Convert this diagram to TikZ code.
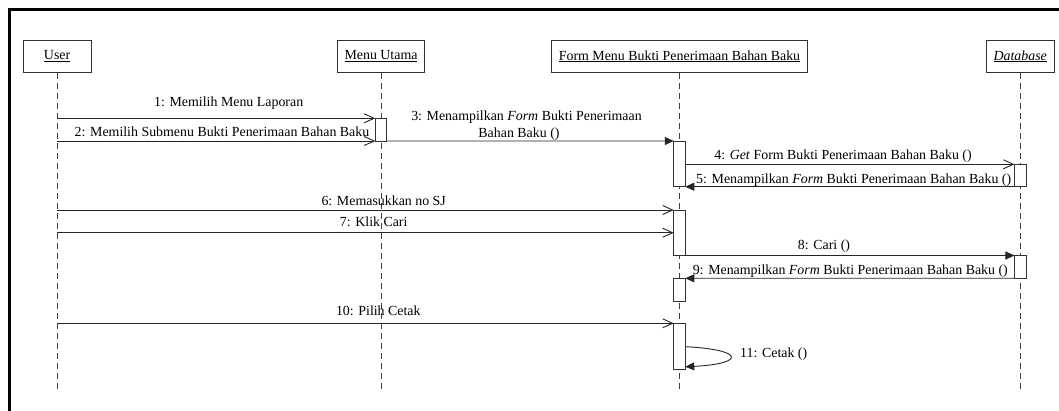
\documentclass[tikz,border=0pt]{standalone}
\usepackage{fontspec}
\setmainfont{Liberation Serif}
\usetikzlibrary{arrows.meta}
\begin{document}
\begin{tikzpicture}[x=1pt,y=-1pt,
  every node/.style={font=\fontsize{13.9}{16.5}\selectfont},
  head/.style={draw=black!80, line width=0.9pt, fill=white, minimum height=32.7pt, inner sep=0pt, outer sep=0pt},
  life/.style={draw=black!75, line width=0.9pt, dash pattern=on 6pt off 4pt},
  act/.style={draw=black!80, line width=0.9pt, fill=white, minimum width=11.5pt, inner sep=0pt, outer sep=0pt},
  call/.style={draw=black!85, line width=0.9pt, -{Straight Barb[length=10pt,width=9pt]}},
  reply/.style={draw=black!85, line width=0.9pt, -{Triangle[length=9pt,width=8pt]}},
  lbl/.style={anchor=base, inner sep=0pt},
]
\useasboundingbox (0,0) rectangle (1059,411);
% outer frame
\draw[line width=2.6pt] (9.6,411) -- (9.6,9.3) -- (1059,9.3);

% object headers
\node[head, minimum width=68.3pt] (user) at (57.1,56.4) {\underline{User}};
\node[head, minimum width=87pt]   (menu) at (381.0,56.4) {\underline{Menu Utama}};
\node[head, minimum width=256pt]  (form) at (679.5,56.4) {\underline{Form Menu Bukti Penerimaan Bahan Baku}};
\node[head, minimum width=68pt]   (db)   at (1020.2,56.4) {\underline{\textit{Database}}};

% lifelines
\coordinate (userEnd) at (user.south |- 0,391.7);
\coordinate (menuEnd) at (menu.south |- 0,391.7);
\coordinate (formEnd) at (form.south |- 0,391.7);
\coordinate (dbEnd)   at (db.south   |- 0,391.7);
\draw[life] (user.south) -- (userEnd);
\draw[life] (menu.south) -- (menuEnd);
\draw[life] (form.south) -- (formEnd);
\draw[life] (db.south)   -- (dbEnd);

% activation bars
\node[act, minimum height=22.7pt] (m1) at (menu.south |- 0,129.65) {};
\node[act, minimum height=45.7pt] (f1) at (form.south |- 0,163.85) {};
\node[act, minimum height=22.4pt] (d1) at (db.south   |- 0,175.5) {};
\node[act, minimum height=45.5pt] (f2) at (form.south |- 0,232.75) {};
\node[act, minimum height=22.8pt] (d2) at (db.south   |- 0,266.9) {};
\node[act, minimum height=22.7pt] (f3) at (form.south |- 0,289.65) {};
\node[act, minimum height=46pt]   (f4) at (form.south |- 0,346.3) {};

% messages
\coordinate (u1)  at (user.south |- m1.north);
\coordinate (u2)  at (user.south |- m1.south);
\coordinate (u6)  at (user.south |- f2.north);
\coordinate (u7)  at (user.south |- f2.west);
\coordinate (u10) at (user.south |- f4.north);

\draw[call]  (u1) -- (m1.north west);
\node[lbl] (l1) at (228.7,107) {1: Memilih Menu Laporan};

\draw[call]  (u2) -- (m1.south west);
\node[lbl] (l2) at (222,137) {2: Memilih Submenu Bukti Penerimaan Bahan Baku};

\draw[reply] (m1.south east) -- (f1.north west);
\node[lbl] (l3a) at (526.5,121) {3: Menampilkan \textit{Form} Bukti Penerimaan};
\node[lbl] (l3b) at (519,137.5) {Bahan Baku ()};

\draw[call]  (f1.east |- d1.north) -- (d1.north west);
\node[lbl] (l4) at (843,159.5) {4: \textit{Get} Form Bukti Penerimaan Bahan Baku ()};

\draw[reply] (d1.south west) -- (f1.south east);
\node[lbl] (l5) at (853.7,183.8) {5: Menampilkan \textit{Form} Bukti Penerimaan Bahan Baku ()};

\draw[call]  (u6) -- (f2.north west);
\node[lbl] (l6) at (383.7,206) {6: Memasukkan no SJ};

\draw[call]  (u7) -- (f2.west);
\node[lbl] (l7) at (373.7,226.5) {7: Klik Cari};

\draw[reply] (f2.east |- d2.north) -- (d2.north west);
\node[lbl] (l8) at (824,249.5) {8: Cari ()};

\draw[reply] (d2.south west) -- (f3.north east);
\node[lbl] (l9) at (850.3,274.3) {9: Menampilkan \textit{Form} Bukti Penerimaan Bahan Baku ()};

\draw[call]  (u10) -- (f4.north west);
\node[lbl] (l10) at (378.3,315.5) {10: Pilih Cetak};

\draw[reply] ([yshift=-0.4pt]f4.east) .. controls +(60,3) and +(60,-3) .. ([yshift=2.5pt]f4.south east);
\node[lbl] (l11) at (773.7,357.3) {11: Cetak ()};
\end{tikzpicture}
\end{document}
